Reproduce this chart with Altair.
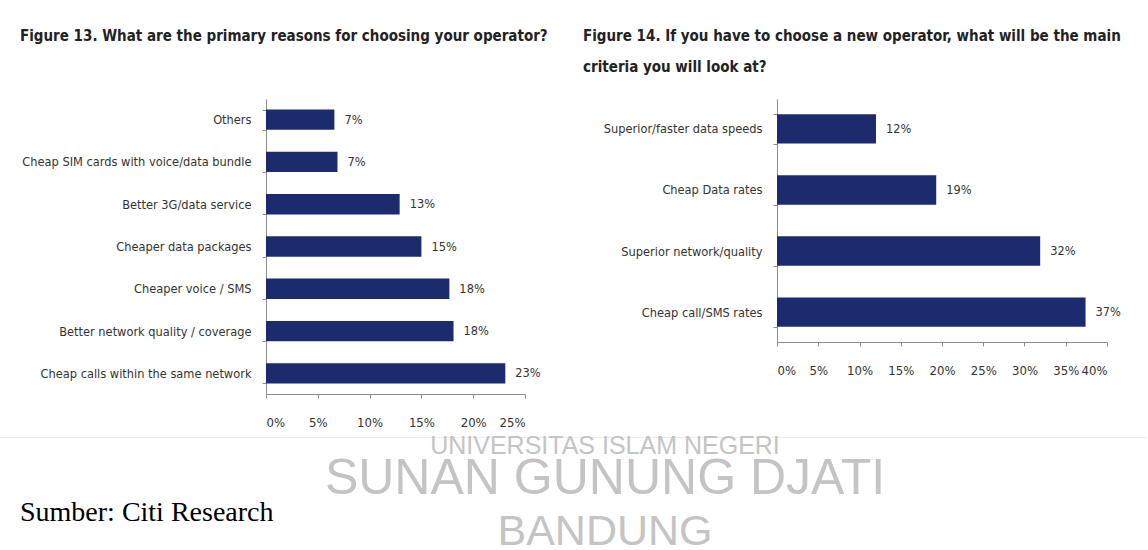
import altair as alt
import pandas as pd

# ---------------- data ----------------
left_categories = [
    "Others",
    "Cheap SIM cards with voice/data bundle",
    "Better 3G/data service",
    "Cheaper data packages",
    "Cheaper voice / SMS",
    "Better network quality / coverage",
    "Cheap calls within the same network",
]
left_values = [0.066, 0.069, 0.129, 0.150, 0.177, 0.181, 0.231]
left_labels = ["7%", "7%", "13%", "15%", "18%", "18%", "23%"]
left_ticks = [0.0, 0.05, 0.10, 0.15, 0.20, 0.25]
left_title = ["Figure 13. What are the primary reasons for choosing your operator?"]

right_categories = [
    "Superior/faster data speeds",
    "Cheap Data rates",
    "Superior network/quality",
    "Cheap call/SMS rates",
]
right_values = [0.120, 0.193, 0.319, 0.374]
right_labels = ["12%", "19%", "32%", "37%"]
right_ticks = [0.0, 0.05, 0.10, 0.15, 0.20, 0.25, 0.30, 0.35, 0.40]
right_title = [
    "Figure 14. If you have to choose a new operator, what will be the main",
    "criteria you will look at?",
]

source_note = "Sumber: Citi Research"
watermark_lines = ["UNIVERSITAS ISLAM NEGERI", "SUNAN GUNUNG DJATI", "BANDUNG"]

# ---------------- style ----------------
FONT = "DejaVu Sans Condensed, Liberation Sans Narrow, sans-serif"
NAVY = "#1c2b6e"
AXIS_GREY = "#8c8c8c"
TEXT = "#333333"
WM_FONT = "Liberation Sans, sans-serif"
WM_COLOR = "#c4c4c4"

one = pd.DataFrame({"k": [0]})


def title_layer(lines, dx, y0, step):
    layers = []
    for i, line in enumerate(lines):
        layers.append(
            alt.Chart(one)
            .mark_text(align="left", baseline="middle", font=FONT, fontSize=15,
                       fontWeight="bold", color="#222222")
            .encode(x=alt.value(dx), y=alt.value(y0 + i * step), text=alt.value(line))
        )
    return layers


def panel(cats, vals, labs, ticks, xmax):
    df = pd.DataFrame({"cat": cats, "val": vals, "lab": labs})
    y_enc = alt.Y(
        "cat:N",
        sort=cats,
        title=None,
        scale=alt.Scale(paddingInner=0.52, paddingOuter=0.25),
        axis=alt.Axis(
            tickBand="extent",
            labelFont=FONT,
            labelFontSize=12.7,
            labelColor=TEXT,
            domainColor=AXIS_GREY,
            tickColor=AXIS_GREY,
            tickSize=4,
            labelPadding=11,
            labelLimit=400,
        ),
    )
    x_enc = alt.X(
        "val:Q",
        title=None,
        scale=alt.Scale(domain=[0, xmax], nice=False),
        axis=alt.Axis(
            values=ticks,
            format=".0%",
            grid=False,
            labelFont=FONT,
            labelFontSize=13,
            labelColor=TEXT,
            domainColor=AXIS_GREY,
            tickColor=AXIS_GREY,
            tickSize=4,
            labelPadding=18,
        ),
    )
    bars = alt.Chart(df).mark_bar(color=NAVY).encode(x=x_enc, y=y_enc)
    labels = (
        alt.Chart(df)
        .mark_text(align="left", baseline="middle", dx=10, font=FONT, fontSize=12.7, color=TEXT)
        .encode(x=alt.X("val:Q"), y=alt.Y("cat:N", sort=cats), text="lab:N")
    )
    return [bars, labels]


# decorations placed relative to the left panel's plot origin
top_anchor = alt.Chart(one).mark_rule(color="#ffffff", strokeWidth=1).encode(
    x=alt.value(0), x2=alt.value(2), y=alt.value(-98)
)
sep = alt.Chart(one).mark_rule(color="#ececec", strokeWidth=1).encode(
    x=alt.value(-265.5), x2=alt.value(880), y=alt.value(338.5)
)
src = alt.Chart(one).mark_text(
    align="left", baseline="alphabetic", font="Liberation Serif, Times New Roman, serif",
    fontSize=28, color="#000000"
).encode(x=alt.value(-246), y=alt.value(421.5), text=alt.value(source_note))
wm1 = alt.Chart(one).mark_text(
    align="center", baseline="alphabetic", font=WM_FONT, fontSize=25, color=WM_COLOR
).encode(x=alt.value(339), y=alt.value(355), text=alt.value(watermark_lines[0]))
wm2 = alt.Chart(one).mark_text(
    align="center", baseline="alphabetic", font=WM_FONT, fontSize=50, color=WM_COLOR
).encode(x=alt.value(339), y=alt.value(395), text=alt.value(watermark_lines[1]))
wm3 = alt.Chart(one).mark_text(
    align="center", baseline="alphabetic", font=WM_FONT, fontSize=43, color=WM_COLOR
).encode(x=alt.value(339), y=alt.value(446), text=alt.value(watermark_lines[2]))

NOVIEW = alt.ViewBackground(stroke="transparent", strokeWidth=0)

left_full = alt.layer(
    top_anchor, sep, wm1, wm2, wm3, src,
    *title_layer(left_title, -246, -63.5, 31),
    *panel(left_categories, left_values, left_labels, left_ticks, 0.25),
).properties(width=259, height=295, view=NOVIEW)

right_full = alt.layer(
    *title_layer(right_title, -194, -63.5, 31),
    *panel(right_categories, right_values, right_labels, right_ticks, 0.40),
).properties(width=330, height=243, view=NOVIEW)

chart = (
    alt.hconcat(left_full, right_full, spacing=252, bounds="flush")
    .properties(padding={"left": 0, "top": 0, "right": 0, "bottom": 0})
    .configure_view(stroke="transparent", strokeWidth=0)
    .configure(background="white")
)

chart.save("out.html", embed_options={"renderer": "svg", "actions": False})
